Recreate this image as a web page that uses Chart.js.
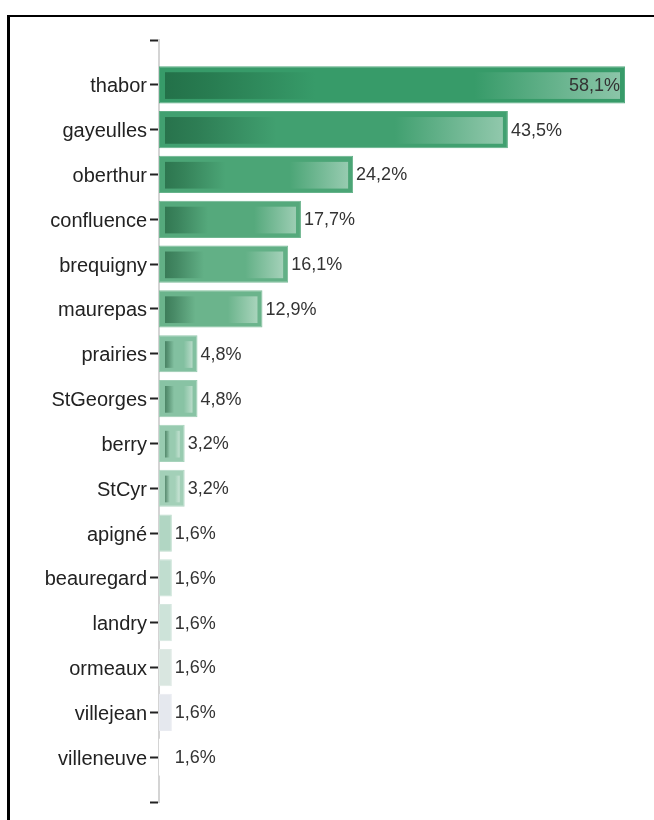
<!DOCTYPE html>
<html>
<head>
<meta charset="utf-8">
<script src="https://cdn.jsdelivr.net/npm/chart.js@4/dist/chart.umd.min.js"></script>
<style>
  html, body { margin: 0; padding: 0; background: #fff; overflow: hidden; }
  #frame { position: absolute; left: 7px; top: 15px; width: 720px; height: 900px;
           border-left: 3px solid #000; border-top: 2px solid #000; box-sizing: border-box; }
  #c { position: absolute; left: 0; top: 0; }
</style>
</head>
<body>
<div id="frame"></div>
<canvas id="c" width="654" height="820"></canvas>
<script>
// ---- data ----
const categories = ['thabor', 'gayeulles', 'oberthur', 'confluence', 'brequigny', 'maurepas',
  'prairies', 'StGeorges', 'berry', 'StCyr', 'apigné', 'beauregard', 'landry', 'ormeaux',
  'villejean', 'villeneuve'];
const values = [58.1, 43.5, 24.2, 17.7, 16.1, 12.9, 4.8, 4.8, 3.2, 3.2, 1.6, 1.6, 1.6, 1.6, 1.6, 1.6];

// ---- styles ----
const barColors = [
  [55, 155, 105], [65, 160, 112], [75, 165, 118], [85, 169, 124], [98, 176, 134], [107, 180, 140],
  [130, 192, 160], [136, 195, 164], [152, 203, 176], [163, 208, 184], [177, 214, 195], [192, 221, 207],
  [205, 227, 217], [217, 230, 224], [229, 232, 238], [255, 255, 255]
];
function mix(c, d, t) { return c.map((v, i) => Math.round(v + (d[i] - v) * t)); }
function rgb(c) { return 'rgb(' + c.join(',') + ')'; }

const padLabels = [''].concat(categories, ['']);
const padValues = [null].concat(values, [null]);
const padColors = [null].concat(barColors, [null]);

function fmt(v) { return v.toFixed(1).replace('.', ',') + '%'; }

const innerGradientPlugin = {
  id: 'innerGradient',
  afterDatasetsDraw(chart) {
    const ctx = chart.ctx;
    const meta = chart.getDatasetMeta(0);
    meta.data.forEach((bar, i) => {
      const v = padValues[i];
      if (v == null) return;
      const c = padColors[i];
      const p = bar.getProps(['x', 'y', 'base', 'height'], true);
      const left = Math.min(p.base, p.x), right = Math.max(p.base, p.x);
      const top = p.y - p.height / 2, bottom = p.y + p.height / 2;
      const w = right - left;
      if (w > 20) {
        const il = left + 6, ir = right - 5, it = top + 6, ib = bottom - 4.5;
        const g = ctx.createLinearGradient(il, 0, ir, 0);
        const dark = mix(c, [15, 70, 40], 0.5);
        const light = mix(c, [255, 255, 255], 0.42);
        g.addColorStop(0, rgb(dark));
        g.addColorStop(0.1, rgb(mix(dark, c, 0.25)));
        g.addColorStop(0.33, rgb(c));
        g.addColorStop(0.68, rgb(c));
        g.addColorStop(1, rgb(light));
        ctx.save();
        ctx.fillStyle = g;
        ctx.fillRect(il, it, ir - il, ib - it);
        ctx.restore();
      }
    });
  }
};

const valueLabelPlugin = {
  id: 'valueLabels',
  afterDatasetsDraw(chart) {
    const ctx = chart.ctx;
    const meta = chart.getDatasetMeta(0);
    ctx.save();
    ctx.font = "18px 'Liberation Sans', Arial, sans-serif";
    ctx.fillStyle = '#333';
    ctx.textBaseline = 'middle';
    meta.data.forEach((bar, i) => {
      const v = padValues[i];
      if (v == null) return;
      const p = bar.getProps(['x', 'y'], true);
      const txt = fmt(v);
      const tw = ctx.measureText(txt).width;
      if (p.x + 3 + tw > chart.width - 2) {
        ctx.textAlign = 'right';
        ctx.fillText(txt, p.x - 5, p.y + 1);
      } else {
        ctx.textAlign = 'left';
        ctx.fillText(txt, p.x + 3, p.y + 1);
      }
    });
    ctx.restore();
  }
};

Chart.defaults.font.family = "'Liberation Sans', Arial, sans-serif";

new Chart(document.getElementById('c'), {
  type: 'bar',
  data: {
    labels: padLabels,
    datasets: [{
      data: padValues,
      backgroundColor: padColors.map(c => c ? rgb(c) : 'transparent'),
      borderColor: padColors.map(c => c ? rgb(mix(c, [255, 255, 255], 0.15)) : 'transparent'),
      borderWidth: 1,
      borderSkipped: false,
      barPercentage: 0.83,
      categoryPercentage: 1.0
    }]
  },
  options: {
    indexAxis: 'y',
    responsive: false,
    animation: false,
    layout: { padding: { top: 40, bottom: 18, right: 29, left: 0 } },
    plugins: { legend: { display: false }, tooltip: { enabled: false } },
    scales: {
      x: { display: false, min: 0, max: 58.1 },
      y: {
        type: 'category',
        offset: false,
        afterFit(scale) { scale.width = 159; },
        grid: { offset: false, drawOnChartArea: false, drawTicks: true, tickLength: 9, tickColor: '#222', tickWidth: 2 },
        border: { display: true, color: '#d4d4d4', width: 2 },
        ticks: { color: '#222', padding: 3, labelOffset: 2, font: { size: 20 }, autoSkip: false }
      }
    }
  },
  plugins: [innerGradientPlugin, valueLabelPlugin]
});
</script>
</body>
</html>
